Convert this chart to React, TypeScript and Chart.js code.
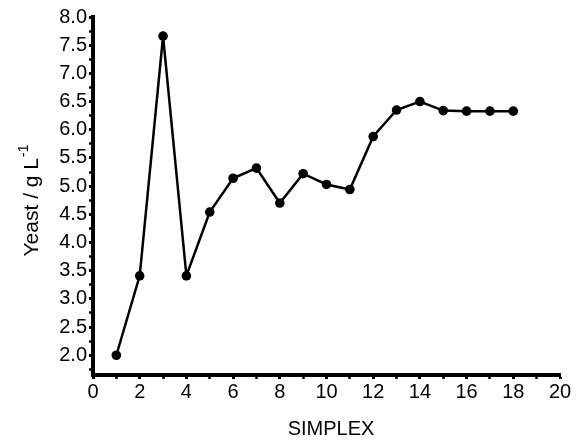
import { useEffect, useRef } from 'react';
import { Chart, registerables } from 'chart.js';

Chart.register(...registerables);

const SIMPLEX = [1, 2, 3, 4, 5, 6, 7, 8, 9, 10, 11, 12, 13, 14, 15, 16, 17, 18];
const YEAST = [2.0, 3.41, 7.66, 3.41, 4.54, 5.14, 5.32, 4.7, 5.22, 5.03, 4.94, 5.88, 6.35, 6.5, 6.34, 6.33, 6.33, 6.33];
const X_MIN = 0;
const X_MAX = 20;
const Y_MIN = 1.65;
const Y_MAX = 8.0;
const X_TITLE = 'SIMPLEX';
const Y_TITLE = 'Yeast / g L';
const Y_TITLE_SUP = '-1';

const FONT = 'Arial, "Liberation Sans", sans-serif';

const titlePlugin = {
  id: 'axisTitles',
  afterDraw(chart: any) {
    const { ctx } = chart;
    ctx.save();
    ctx.fillStyle = '#000';
    ctx.font = `20px ${FONT}`;
    ctx.textAlign = 'center';
    ctx.textBaseline = 'alphabetic';
    ctx.fillText(X_TITLE, 331, 435);

    ctx.translate(38, 200.5);
    ctx.rotate(-Math.PI / 2);
    ctx.font = `21px ${FONT}`;
    const mainW = ctx.measureText(Y_TITLE).width;
    ctx.font = `14px ${FONT}`;
    const supW = ctx.measureText(Y_TITLE_SUP).width;
    const total = mainW + 1 + supW;
    ctx.textAlign = 'left';
    ctx.font = `21px ${FONT}`;
    ctx.fillText(Y_TITLE, -total / 2, 0);
    ctx.font = `14px ${FONT}`;
    ctx.fillText(Y_TITLE_SUP, -total / 2 + mainW + 1, -10);
    ctx.restore();
  },
};

export default function App() {
  const ref = useRef<HTMLCanvasElement | null>(null);

  useEffect(() => {
    document.body.style.margin = '0';
    const canvas = ref.current;
    if (!canvas) return;
    const chart = new Chart(canvas, {
      type: 'line',
      data: {
        datasets: [
          {
            data: SIMPLEX.map((x, i) => ({ x, y: YEAST[i] })),
            borderColor: '#000',
            backgroundColor: '#000',
            borderWidth: 2.5,
            pointRadius: 4.8,
            pointBackgroundColor: '#000',
            pointBorderWidth: 0,
            tension: 0,
          },
        ],
      },
      options: {
        animation: false,
        responsive: false,
        maintainAspectRatio: false,
        layout: { padding: { left: 0, top: 17, right: 19, bottom: 0 } },
        plugins: { legend: { display: false }, tooltip: { enabled: false } },
        scales: {
          x: {
            type: 'linear',
            min: X_MIN,
            max: X_MAX,
            afterFit: (s: any) => {
              s.height = 65;
            },
            afterBuildTicks: (s: any) => {
              const t = [];
              for (let v = X_MIN; v <= X_MAX; v += 1) t.push({ value: v });
              s.ticks = t;
            },
            ticks: {
              autoSkip: false,
              maxRotation: 0,
              color: '#000',
              font: { size: 20, family: FONT },
              padding: 1,
              callback: (v: any) => (Number(v) % 2 === 0 ? String(v) : ''),
            },
            grid: {
              drawOnChartArea: false,
              drawTicks: true,
              tickLength: 4,
              tickColor: '#000',
              tickWidth: (c: any) => (c.tick && c.tick.value % 2 === 0 ? 3 : 2.5),
            },
            border: { display: true, color: '#000', width: 4 },
          },
          y: {
            type: 'linear',
            min: Y_MIN,
            max: Y_MAX,
            afterFit: (s: any) => {
              s.width = 93;
            },
            afterBuildTicks: (s: any) => {
              const t = [];
              for (let k = 7; k <= 32; k++) t.push({ value: k * 0.25 });
              s.ticks = t;
            },
            ticks: {
              autoSkip: false,
              color: '#000',
              font: { size: 20, family: FONT },
              padding: 2,
              callback: (v: any) => {
                const n = Number(v);
                return Math.abs(n * 2 - Math.round(n * 2)) < 1e-6 ? n.toFixed(1) : '';
              },
            },
            grid: {
              drawOnChartArea: false,
              drawTicks: true,
              tickLength: 4,
              tickColor: '#000',
              tickWidth: (c: any) => {
                const n = c.tick ? c.tick.value : 0;
                return Math.abs(n * 2 - Math.round(n * 2)) < 1e-6 ? 3 : 2.5;
              },
            },
            border: { display: true, color: '#000', width: 4 },
          },
        },
      },
      plugins: [titlePlugin],
    });
    return () => chart.destroy();
  }, []);

  return (
    <div style={{ width: 579, height: 440 }}>
      <canvas ref={ref} width={579} height={440} style={{ display: 'block', width: 579, height: 440 }} />
    </div>
  );
}
